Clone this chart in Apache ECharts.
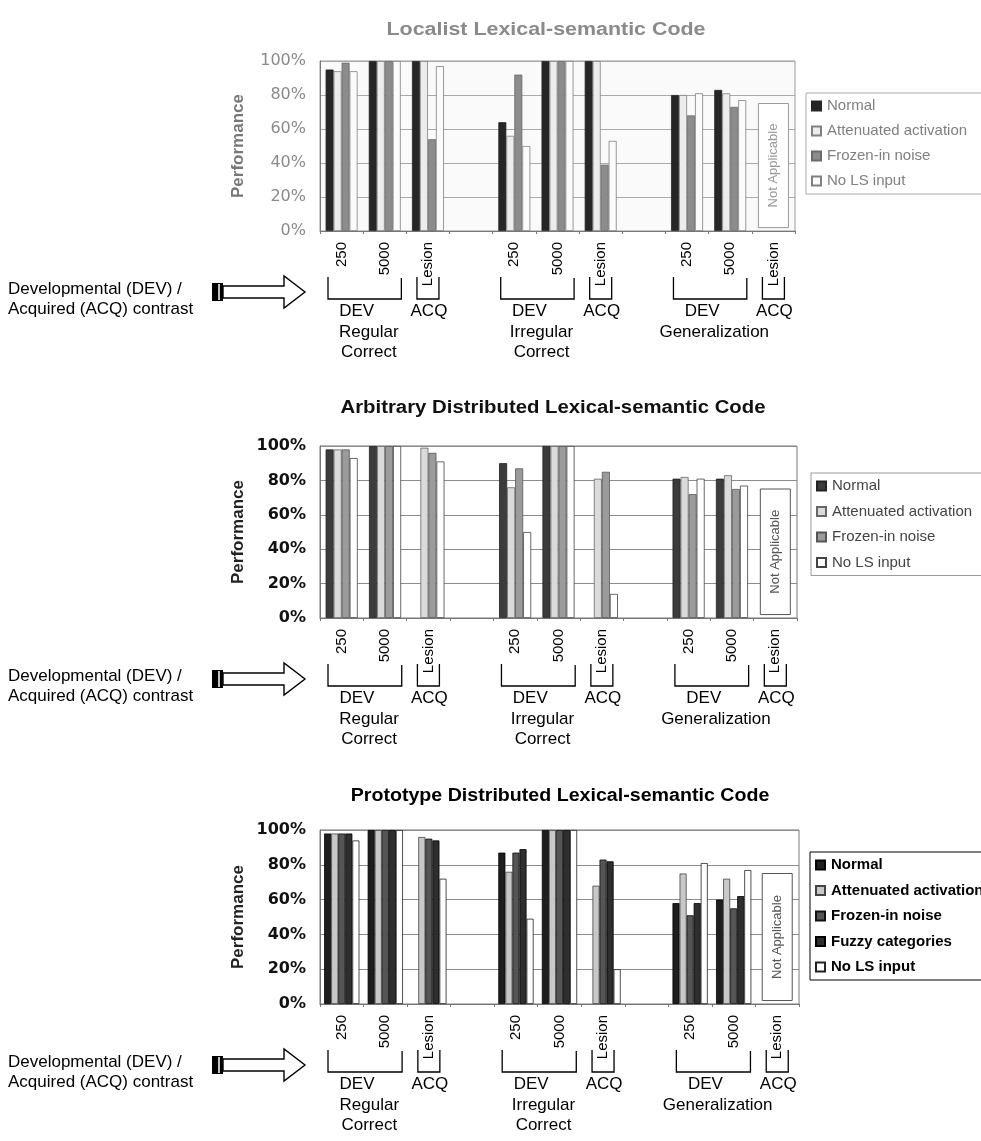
<!DOCTYPE html>
<html><head><meta charset="utf-8">
<script src="https://cdn.jsdelivr.net/npm/echarts@6/dist/echarts.min.js"></script>
<style>html,body{margin:0;padding:0;background:#fff}#c{width:981px;height:1141px}</style>
</head><body><div id="c"></div>
<script>
// ---------- DATA ----------
const categories = ['250','5000','Lesion','','250','5000','Lesion','','250','5000','Lesion'];
const panelTitles = ['Localist Lexical-semantic Code','Arbitrary Distributed Lexical-semantic Code','Prototype Distributed Lexical-semantic Code'];
const groupNames = [['Regular','Correct'],['Irregular','Correct'],['Generalization']];
const legendNames4 = ['Normal','Attenuated activation','Frozen-in noise','No LS input'];
const legendNames5 = ['Normal','Attenuated activation','Frozen-in noise','Fuzzy categories','No LS input'];

const localistNormal  = [95, 100, 100, null, 64, 100, 100, null, 80, 83, null];
const localistAtten   = [94, 100, 100, null, 56, 100, 100, null, 80, 81, null];
const localistFrozen  = [99, 100, 54, null, 92, 100, 39, null, 68, 73, null];
const localistNoLS    = [94, 100, 97, null, 50, 100, 53, null, 81, 77, null];

const arbitraryNormal = [98, 100, null, null, 90, 100, null, null, 81, 81, null];
const arbitraryAtten  = [98, 100, 99, null, 76, 100, 81, null, 82, 83, null];
const arbitraryFrozen = [98, 100, 96, null, 87, 100, 85, null, 72, 75, null];
const arbitraryNoLS   = [93, 100, 91, null, 50, 100, 14, null, 81, 77, null];

const prototypeNormal = [98, 100, null, null, 87, 100, null, null, 58, 60, null];
const prototypeAtten  = [98, 100, 96, null, 76, 100, 68, null, 75, 72, null];
const prototypeFrozen = [98, 100, 95, null, 87, 100, 83, null, 51, 55, null];
const prototypeFuzzy  = [98, 100, 94, null, 89, 100, 82, null, 58, 62, null];
const prototypeNoLS   = [94, 100, 72, null, 49, 100, 20, null, 81, 77, null];

// ---------- STYLE / LAYOUT ----------
const FONT = "'Liberation Sans', Arial, sans-serif";
const panels = [
  { names: legendNames4, data: [localistNormal, localistAtten, localistFrozen, localistNoLS],
    fills: ['#262626','#ececec','#8c8c8c','#fbfbfb'], borders: ['#262626','#808080','#6a6a6a','#808080'],
    top: 61, height: 170, right: 186, gapCat: '26%', faded: true,
    legend: {left: 806, top: 93, border: '#aaa', color: '#808080', weight: 'normal', gap: 9},
    titleY: 30, titleX: 546, titleColor: '#8a8a8a', titleSx: 1.19 },
  { names: legendNames4, data: [arbitraryNormal, arbitraryAtten, arbitraryFrozen, arbitraryNoLS],
    fills: ['#3c3c3c','#dadada','#9b9b9b','#ffffff'], borders: ['#222','#666','#555','#444'],
    top: 446, height: 172, right: 184, gapCat: '26%', faded: false,
    legend: {left: 811, top: 473, border: '#999', color: '#444', weight: 'normal', gap: 9.5},
    titleY: 408, titleX: 553, titleColor: '#111', titleSx: 1.13 },
  { names: legendNames5, data: [prototypeNormal, prototypeAtten, prototypeFrozen, prototypeFuzzy, prototypeNoLS],
    fills: ['#1e1e1e','#c8c8c8','#555555','#2e2e2e','#ffffff'], borders: ['#000','#444','#111','#000','#222'],
    top: 830, height: 174, right: 182, gapCat: '19%', faded: false,
    legend: {left: 810, top: 852, border: '#000', color: '#000', weight: 'bold', gap: 9.5},
    titleY: 796, titleX: 560, titleColor: '#000', titleSx: 1.09 }
];

const chart = echarts.init(document.getElementById('c'), null, {renderer: 'canvas'});
const grids = [], xAxes = [], yAxes = [], series = [], legends = [];
panels.forEach((P, p) => {
  grids.push({left: 320, right: P.right, top: P.top, height: P.height, show: true,
    borderColor: P.faded ? '#999' : '#777', borderWidth: 1, backgroundColor: P.faded ? '#fafafa' : '#fff'});
  xAxes.push({type: 'category', gridIndex: p, data: categories,
    axisLine: {lineStyle: {color: '#777'}},
    axisTick: {show: true, length: 3, lineStyle: {color: '#777'}},
    axisLabel: {interval: 0, rotate: 90, margin: 11, fontSize: 15, fontFamily: FONT, color: '#000'}});
  yAxes.push({type: 'value', gridIndex: p, min: 0, max: 100, interval: 20,
    name: 'Performance', nameLocation: 'middle', nameGap: 73, nameRotate: 90,
    nameTextStyle: {fontSize: 17, fontWeight: 'bold', fontFamily: FONT, color: P.faded ? '#777' : '#222'},
    axisLine: {show: true, lineStyle: {color: '#777'}},
    axisTick: {show: false},
    splitLine: {lineStyle: {color: P.faded ? '#aaa' : '#8c8c8c', width: 1}},
    axisLabel: {formatter: '{value}%', margin: 14, fontSize: 16, fontFamily: "'DejaVu Sans', sans-serif",
      fontWeight: P.faded ? 'normal' : 'bold', color: P.faded ? '#8a8a8a' : '#111'}});
  P.names.forEach((n, k) => {
    series.push({type: 'bar', name: n + ' [' + (p + 1) + ']', xAxisIndex: p, yAxisIndex: p,
      data: P.data[k], barGap: '0%', barCategoryGap: P.gapCat,
      itemStyle: {color: P.fills[k], borderColor: P.borders[k], borderWidth: 0.8},
      emphasis: {disabled: true}, animation: false});
  });
  legends.push({orient: 'vertical', left: P.legend.left, top: P.legend.top, padding: [5, 40, 5, 5],
    itemWidth: 9, itemHeight: 9, itemGap: P.legend.gap, icon: 'rect', selectedMode: false,
    borderColor: P.legend.border, borderWidth: 1,
    data: P.names.map(n => n + ' [' + (p + 1) + ']'),
    formatter: n => n.replace(/ \[\d\]$/, ''),
    textStyle: {fontSize: 15, lineHeight: 16, fontFamily: FONT, color: P.legend.color, fontWeight: P.legend.weight, padding: [0, 0, 0, 1]}});
});

chart.setOption({animation: false, grid: grids, xAxis: xAxes, yAxis: yAxes, series: series, legend: legends});

// ---------- ANNOTATIONS (positions derived from axes) ----------
const g = [];
function txt(x, y, s, o) {
  o = o || {};
  g.push({type: 'text', x: x, y: y, rotation: o.rot || 0, scaleX: o.sx || 1, z: 50,
    style: {text: s, fontSize: o.size || 17, fontFamily: FONT, fontWeight: o.weight || 'normal',
      fill: o.color || '#000', align: o.align || 'center', verticalAlign: 'middle'}});
}
function line(points, o) {
  o = o || {};
  g.push({type: 'polyline', z: 50, shape: {points: points}, style: {stroke: o.color || '#000', lineWidth: o.w || 1.3, fill: null}});
}
panels.forEach((P, p) => {
  const px = (i, v) => chart.convertToPixel({gridIndex: p}, [i, v]);
  const yb = px(0, 0)[1];
  const w = px(1, 0)[0] - px(0, 0)[0];
  // title
  txt(P.titleX, P.titleY, panelTitles[p], {size: 18, weight: 'bold', color: P.titleColor, sx: P.titleSx});
  // group brackets & names
  for (let gi = 0; gi < 3; gi++) {
    const b = gi * 4;
    const c250 = px(b, 0)[0], c5000 = px(b + 1, 0)[0], cLes = px(b + 2, 0)[0];
    const l = c250 - w / 2 + 8, r = c5000 + w / 2 - 5;
    line([[l, yb + 46], [l, yb + 68], [r, yb + 68], [r, yb + 47]]);
    line([[cLes - 11, yb + 46], [cLes - 11, yb + 68], [cLes + 11, yb + 68], [cLes + 11, yb + 46]]);
    txt((l + r) / 2 - 8, yb + 80, 'DEV');
    txt(cLes + 1, yb + 80, 'ACQ');
    groupNames[gi].forEach((s, li) => txt(c5000 - 16, yb + 101 + li * 20, s));
  }
  // left annotation
  txt(8, yb + 58, 'Developmental (DEV) /', {align: 'left', size: 17});
  txt(8, yb + 78, 'Acquired (ACQ) contrast', {align: 'left', size: 17});
  const cy = yb + 61;
  g.push({type: 'rect', z: 50, shape: {x: 212, y: cy - 9, width: 11, height: 18}, style: {fill: '#000'}});
  g.push({type: 'line', z: 51, shape: {x1: 219, y1: cy - 8, x2: 219, y2: cy + 8}, style: {stroke: '#fff', lineWidth: 1.5}});
  g.push({type: 'polygon', z: 50, shape: {points: [[223, cy - 6], [284, cy - 6], [284, cy - 16], [305, cy], [284, cy + 16], [284, cy + 6], [223, cy + 6]]},
    style: {fill: '#fff', stroke: '#000', lineWidth: 1.4}});
  // Not Applicable box
  const cNA = px(10, 0)[0];
  const yTop = px(10, 75)[1], yBot = px(10, 2)[1];
  g.push({type: 'rect', z: 40, shape: {x: cNA - 15, y: yTop, width: 30, height: yBot - yTop},
    style: {fill: '#fff', stroke: P.faded ? '#999' : '#555', lineWidth: 1}});
  txt(cNA, (yTop + yBot) / 2, 'Not Applicable', {rot: Math.PI / 2, size: 13, color: P.faded ? '#999' : '#555'});
});
chart.setOption({graphic: {elements: g}});
</script>
</body></html>
